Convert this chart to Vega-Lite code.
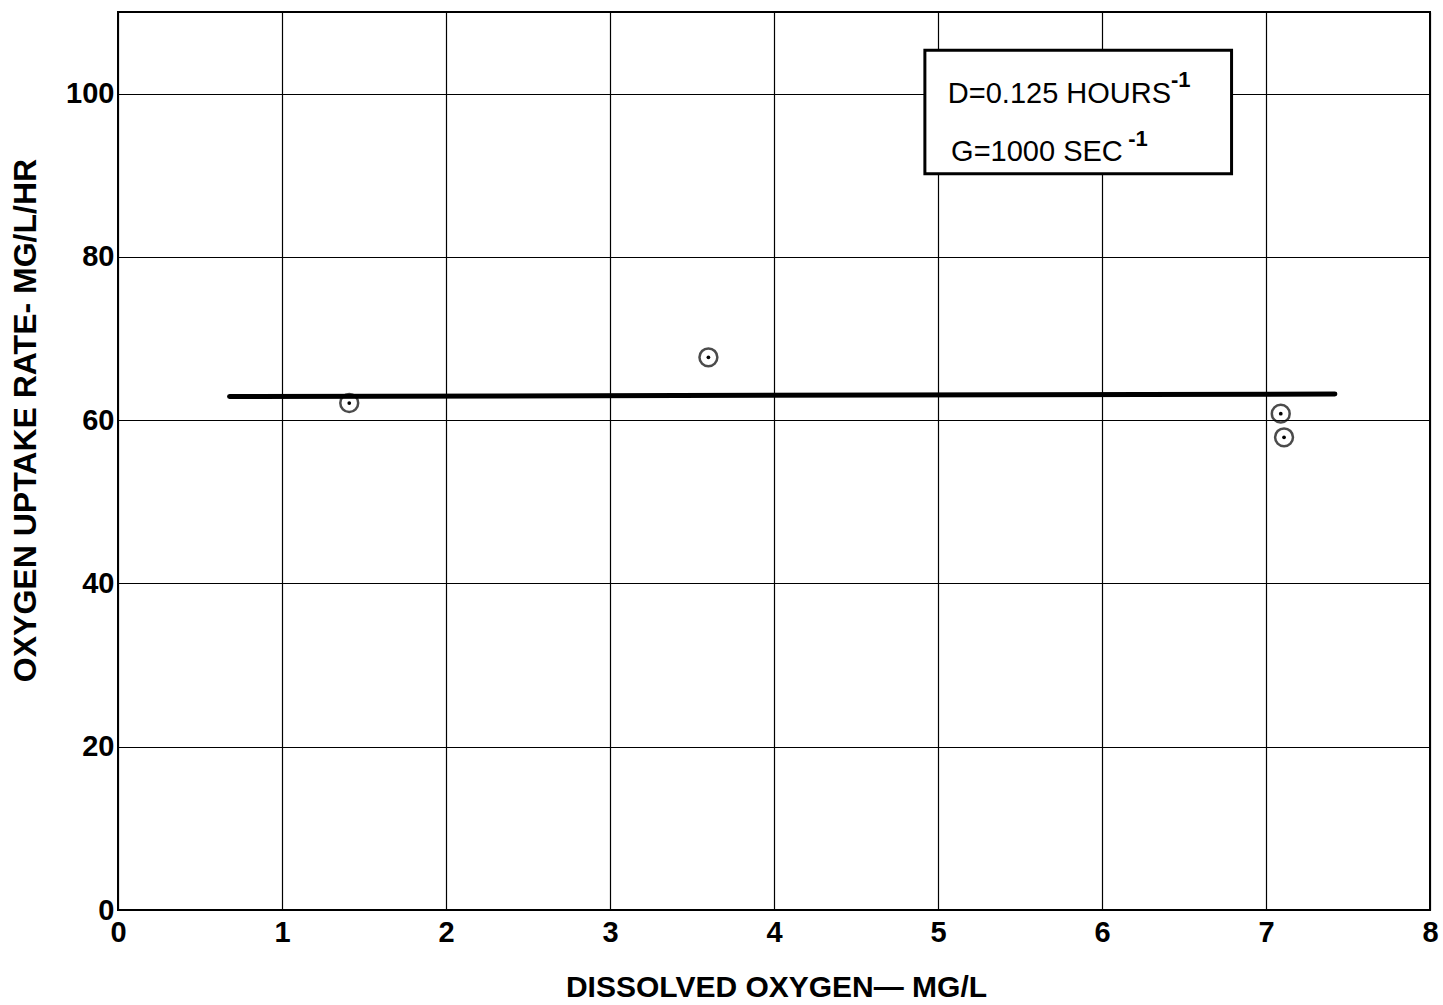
{
  "$schema": "https://vega.github.io/schema/vega-lite/v6.json",
  "autosize": {"type": "none"},
  "padding": {"left": 118, "top": 12, "right": 13, "bottom": 95},
  "width": 1312,
  "height": 898,
  "background": "white",
  "config": {
    "view": {"stroke": "black", "strokeWidth": 2},
    "font": "Liberation Sans",
    "axis": {
      "grid": true,
      "gridColor": "black",
      "gridOpacity": 1,
      "gridWidth": 1.2,
      "domain": false,
      "ticks": false,
      "labelFont": "Liberation Sans",
      "labelFontWeight": "bold",
      "labelFontSize": 29,
      "labelColor": "black",
      "labelFlush": false,
      "labelBound": false,
      "titleFont": "Liberation Sans",
      "titleFontWeight": "bold",
      "titleColor": "black"
    }
  },
  "datasets": {
    "points": [
      {"do": 1.41, "our": 62.1},
      {"do": 3.60, "our": 67.7},
      {"do": 7.09, "our": 60.8},
      {"do": 7.11, "our": 57.9}
    ],
    "fit": [
      {"do": 0.68, "our": 62.9},
      {"do": 7.42, "our": 63.2}
    ],
    "box": [
      {"x1": 4.92, "x2": 6.79, "y1": 90.2, "y2": 105.3}
    ],
    "notes": [
      {"x": 5.06, "y": 100.0, "label": "D=0.125 HOURS"},
      {"x": 5.08, "y": 92.8, "label": "G=1000 SEC"}
    ],
    "sups": [
      {"x": 6.42, "y": 101.7, "label": "-1"},
      {"x": 6.16, "y": 94.5, "label": "-1"}
    ]
  },
  "layer": [
    {
      "data": {"name": "fit"},
      "mark": {"type": "line", "color": "black", "strokeWidth": 5, "strokeCap": "round"},
      "encoding": {
        "x": {
          "field": "do", "type": "quantitative",
          "scale": {"domain": [0, 8], "nice": false},
          "axis": {
            "values": [0, 1, 2, 3, 4, 5, 6, 7, 8],
            "format": "d",
            "labelPadding": 8,
            "title": "DISSOLVED OXYGEN— MG/L",
            "titleFontSize": 30,
            "titleX": 658,
            "titleY": 77,
            "titleBaseline": "middle",
            "titleAlign": "center"
          }
        },
        "y": {
          "field": "our", "type": "quantitative",
          "scale": {"domain": [0, 110], "nice": false},
          "axis": {
            "values": [0, 20, 40, 60, 80, 100],
            "labelPadding": 4,
            "title": "OXYGEN UPTAKE RATE- MG/L/HR",
            "titleFontSize": 32,
            "titleX": -93,
            "titleY": 408,
            "titleBaseline": "middle",
            "titleAlign": "center",
            "titleAngle": -90
          }
        }
      }
    },
    {
      "data": {"name": "points"},
      "mark": {"type": "point", "shape": "circle", "filled": false, "color": "black", "strokeWidth": 2.5, "size": 320},
      "encoding": {
        "x": {"field": "do", "type": "quantitative"},
        "y": {"field": "our", "type": "quantitative"}
      }
    },
    {
      "data": {"name": "points"},
      "mark": {"type": "point", "shape": "circle", "filled": true, "color": "black", "opacity": 1, "size": 14},
      "encoding": {
        "x": {"field": "do", "type": "quantitative"},
        "y": {"field": "our", "type": "quantitative"}
      }
    },
    {
      "data": {"name": "box"},
      "mark": {"type": "rect", "fill": "white", "stroke": "black", "strokeWidth": 3},
      "encoding": {
        "x": {"field": "x1", "type": "quantitative"},
        "x2": {"field": "x2"},
        "y": {"field": "y1", "type": "quantitative"},
        "y2": {"field": "y2"}
      }
    },
    {
      "data": {"name": "notes"},
      "mark": {"type": "text", "align": "left", "baseline": "middle", "fontSize": 29, "font": "Liberation Sans", "color": "black"},
      "encoding": {
        "x": {"field": "x", "type": "quantitative"},
        "y": {"field": "y", "type": "quantitative"},
        "text": {"field": "label"}
      }
    },
    {
      "data": {"name": "sups"},
      "mark": {"type": "text", "align": "left", "baseline": "middle", "fontSize": 22, "fontWeight": "bold", "font": "Liberation Sans", "color": "black"},
      "encoding": {
        "x": {"field": "x", "type": "quantitative"},
        "y": {"field": "y", "type": "quantitative"},
        "text": {"field": "label"}
      }
    }
  ]
}
